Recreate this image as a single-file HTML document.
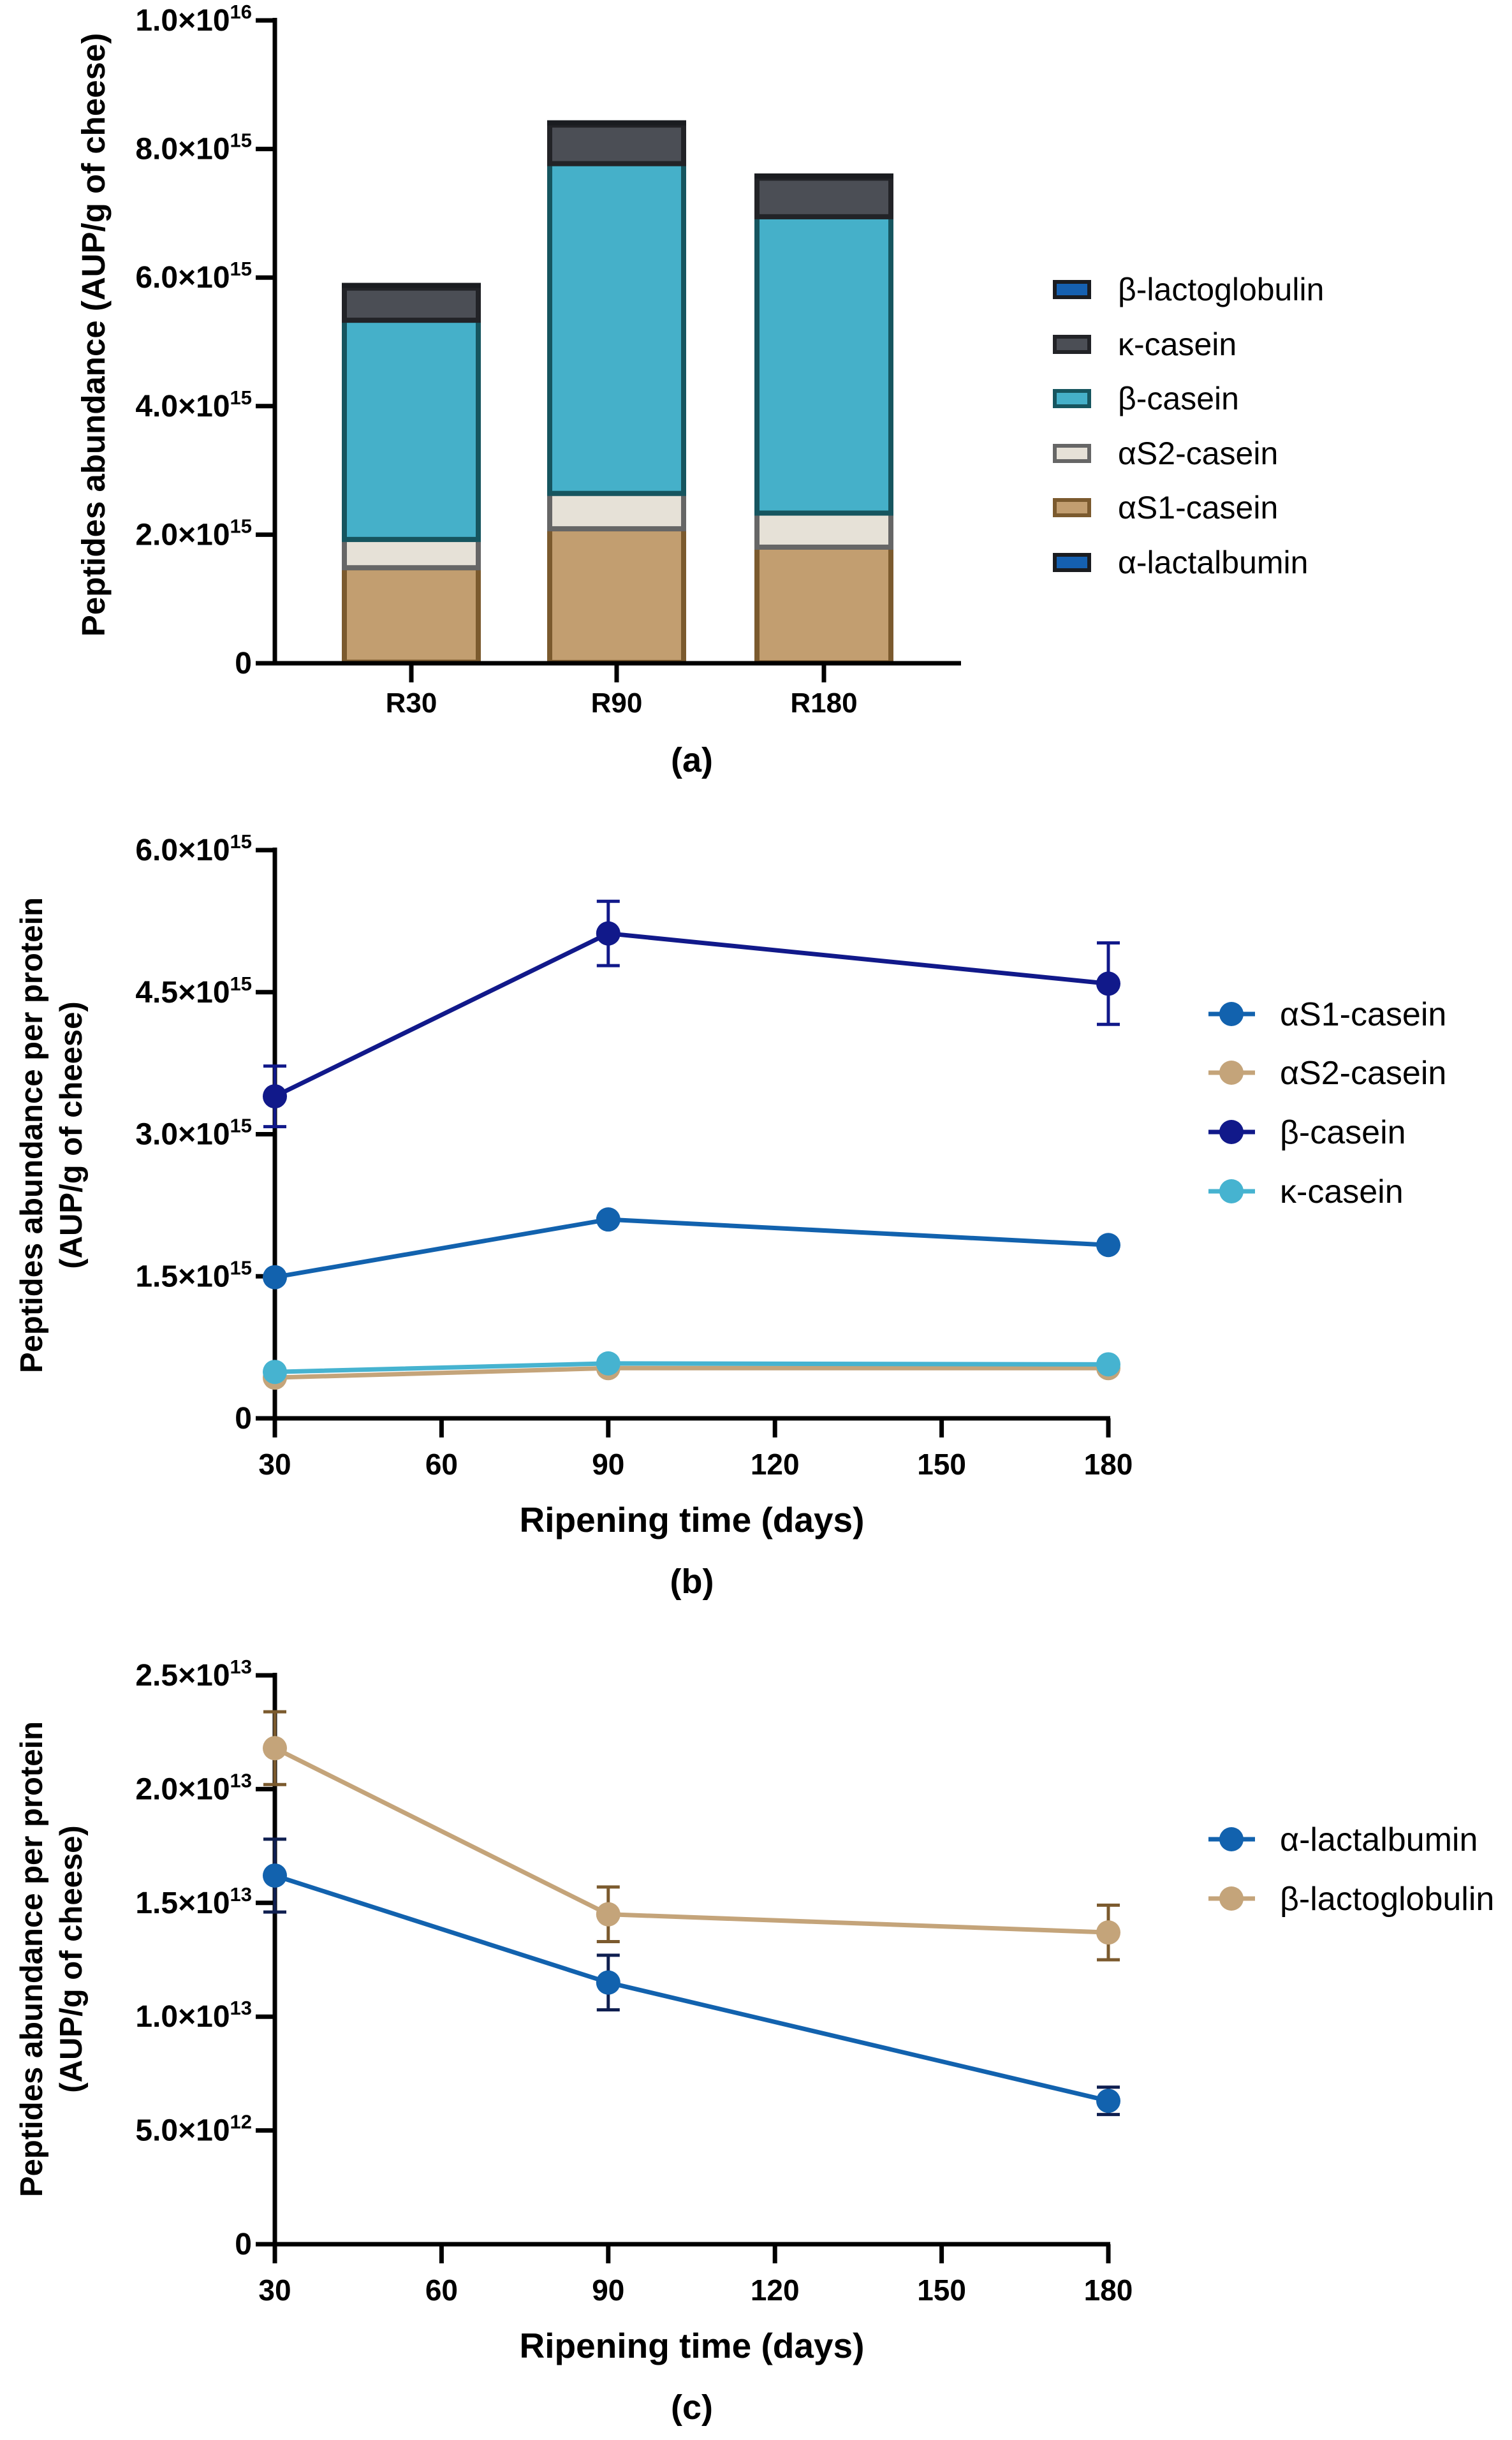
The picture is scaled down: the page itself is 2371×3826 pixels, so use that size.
<!DOCTYPE html>
<html><head><meta charset="utf-8"><style>
html,body{margin:0;padding:0;background:#fff;}
svg{display:block;font-family:"Liberation Sans",Arial,sans-serif;}
</style></head><body>
<svg id="fig" width="2371" height="3826" viewBox="0 0 2371 3826"></svg>
<script>
// ---- Chart (a) data: stacked bars (units 1e15) ----
const aCategories = ['R30','R90','R180'];
const aLact = [0.016, 0.012, 0.006];
const aAS1 = [1.47, 2.08, 1.80];
const aAS2 = [0.44, 0.55, 0.53];
const aBeta = [3.41, 5.13, 4.61];
const aKappa = [0.50, 0.60, 0.60];
const aBlg = [0.022, 0.015, 0.014];
const aTicks = [0, 2, 4, 6, 8, 10];
const aTickMant = ['0','2.0','4.0','6.0','8.0','1.0'];
const aTickExp = ['','15','15','15','15','16'];
// ---- Chart (b) data (units 1e15) ----
const bDays = [30, 90, 180];
const bAS1 = [1.49, 2.10, 1.83];
const bAS2 = [0.43, 0.53, 0.53];
const bBeta = [3.40, 5.12, 4.59];
const bBetaErr = [0.32, 0.34, 0.43];
const bKappa = [0.49, 0.58, 0.57];
const bTicks = [0, 1.5, 3.0, 4.5, 6.0];
const bTickMant = ['0','1.5','3.0','4.5','6.0'];
const bTickExp = ['','15','15','15','15'];
const xTicks = [30, 60, 90, 120, 150, 180];
// ---- Chart (c) data (units 1e13) ----
const cDays = [30, 90, 180];
const cLact = [1.62, 1.15, 0.63];
const cLactErr = [0.16, 0.12, 0.06];
const cBlg = [2.18, 1.45, 1.37];
const cBlgErr = [0.16, 0.12, 0.12];
const cTicks = [0, 0.5, 1.0, 1.5, 2.0, 2.5];
const cTickMant = ['0','5.0','1.0','1.5','2.0','2.5'];
const cTickExp = ['','12','13','13','13','13'];

const NS='http://www.w3.org/2000/svg';
const svg=document.getElementById('fig');
function mk(tag,attrs,parent){const e=document.createElementNS(NS,tag);for(const k in attrs)e.setAttribute(k,attrs[k]);(parent||svg).appendChild(e);return e;}
function txt(x,y,s,size,weight,anchor,parent){const t=mk('text',{x:x,y:y,'font-size':size,'font-weight':weight,'text-anchor':anchor,fill:'#000'},parent);t.textContent=s;return t;}
function sciLabel(x,y,mant,exp,parent){
  const t=mk('text',{x:x,y:y,'font-size':48,'font-weight':'bold','text-anchor':'end',fill:'#000'},parent);
  if(!exp){t.textContent=mant;return t;}
  const a=mk('tspan',{},t);a.textContent=mant+'×10';
  const b=mk('tspan',{dy:-19,'font-size':31},t);b.textContent=exp;
  return t;
}
const AXX=431;

// ================= Chart (a) =================
const ga=mk('g',{});


const aY0=1040, aYtop=32, aMax=10;
const ay=v=>aY0-(v/aMax)*(aY0-aYtop);
const aCenters=[645,967,1292]; const barW=210;
const aStacks=[
 {name:'as1-casein',vals:aAS1,fill:'#c29e70',stroke:'#7b5a2e'},
 {name:'as2-casein',vals:aAS2,fill:'#e6e1d7',stroke:'#666666'},
 {name:'beta-casein',vals:aBeta,fill:'#45b0c9',stroke:'#16555f'},
 {name:'kappa-casein',vals:aKappa,fill:'#4b4e55',stroke:'#222327'}
];
aCategories.forEach((c,i)=>{
  let base=aLact[i];
  aStacks.forEach(s=>{
    const top=base+s.vals[i];
    const r=mk('rect',{x:aCenters[i]-barW/2,y:ay(top),width:barW,height:ay(base)-ay(top),fill:s.fill,stroke:s.stroke,'stroke-width':8},ga);
    
    
    base=top;
  });
  const r2=mk('rect',{x:aCenters[i]-barW/2-4,y:ay(base+aBlg[i])-6,width:barW+8,height:8,fill:'#1a1c20'},ga);
  
  
  mk('line',{x1:aCenters[i],y1:aY0,x2:aCenters[i],y2:aY0+30,stroke:'#000','stroke-width':7},ga);
  const t=txt(aCenters[i],1117,c,44,'bold','middle',ga);
  
  
});
mk('line',{x1:AXX,y1:aYtop-4,x2:AXX,y2:aY0+3,stroke:'#000','stroke-width':7},ga);
mk('line',{x1:AXX-3,y1:aY0,x2:1507,y2:aY0,stroke:'#000','stroke-width':7},ga);
aTicks.forEach((v,i)=>{
  mk('line',{x1:AXX-30,y1:ay(v),x2:AXX,y2:ay(v),stroke:'#000','stroke-width':7},ga);
  const l=sciLabel(AXX-36,ay(v)+16,aTickMant[i],aTickExp[i],ga);
  
  
});
const ayt=txt(0,0,'Peptides abundance (AUP/g of cheese)',51,'bold','middle',ga);
ayt.setAttribute('transform','translate(164,525) rotate(-90)');


const pa=txt(1085,1210,'(a)',54,'bold','middle',ga);


// legend (a)
const aLegend=[
 {name:'β-lactoglobulin',fill:'#1560b0',stroke:'#1a1c20'},
 {name:'κ-casein',fill:'#4b4e55',stroke:'#222327'},
 {name:'β-casein',fill:'#45b0c9',stroke:'#16555f'},
 {name:'αS2-casein',fill:'#e6e1d7',stroke:'#666666'},
 {name:'αS1-casein',fill:'#c29e70',stroke:'#7b5a2e'},
 {name:'α-lactalbumin',fill:'#1560b0',stroke:'#1a1c20'}
];
const aLegY=[454,540,625,711,796,882];
aLegend.forEach((L,i)=>{
  const g=mk('g',{},ga);
  
  
  mk('rect',{x:1654,y:aLegY[i]-12,width:54,height:24,fill:L.fill,stroke:L.stroke,'stroke-width':6},g);
  txt(1753,aLegY[i]+17,L.name,50,'normal','start',g);
});

// ================= Line chart helper =================
function lineChart(opts){
  const g=mk('g',{});
  
  
  const X0=431,X1=1738;
  const xs=d=>X0+(d-30)/150*(X1-X0);
  const ys=v=>opts.y0-(v/opts.max)*(opts.y0-opts.ytop);
  mk('line',{x1:X0,y1:opts.ytop-4,x2:X0,y2:opts.y0+3,stroke:'#000','stroke-width':7},g);
  mk('line',{x1:X0-3,y1:opts.y0,x2:X1+3,y2:opts.y0,stroke:'#000','stroke-width':7},g);
  opts.ticks.forEach((v,i)=>{
    mk('line',{x1:X0-30,y1:ys(v),x2:X0,y2:ys(v),stroke:'#000','stroke-width':7},g);
    const l=sciLabel(X0-36,ys(v)+16,opts.mant[i],opts.exp[i],g);
    
    
  });
  xTicks.forEach(d=>{
    mk('line',{x1:xs(d),y1:opts.y0,x2:xs(d),y2:opts.y0+30,stroke:'#000','stroke-width':7},g);
    const t=txt(xs(d),opts.y0+88,String(d),46,'bold','middle',g);
    
    
  });
  const xt=txt(1085,opts.y0+178,'Ripening time (days)',55,'bold','middle',g);
  
  
  const pl=txt(1085,opts.y0+274,opts.panel,54,'bold','middle',g);
  
  
  const yt=mk('text',{transform:'translate(0,'+opts.ymid+') rotate(-90)','font-size':49,'font-weight':'bold','text-anchor':'middle',fill:'#000'},g);
  
  
  const t1=mk('tspan',{x:0,y:66},yt);t1.textContent='Peptides abundance per protein';
  const t2=mk('tspan',{x:0,y:128},yt);t2.textContent='(AUP/g of cheese)';
  opts.series.forEach(s=>{
    const sg=mk('g',{},g);
    
    
    const pts=opts.days.map((d,i)=>xs(d)+','+ys(s.vals[i])).join(' ');
    mk('polyline',{points:pts,fill:'none',stroke:s.color,'stroke-width':7},sg);
    opts.days.forEach((d,i)=>{
      if(s.err){
        const x=xs(d),hi=ys(s.vals[i]+s.err[i]),lo=ys(s.vals[i]-s.err[i]);
        mk('line',{x1:x,y1:hi,x2:x,y2:lo,stroke:s.errColor,'stroke-width':5},sg);
        mk('line',{x1:x-18,y1:hi,x2:x+18,y2:hi,stroke:s.errColor,'stroke-width':5},sg);
        mk('line',{x1:x-18,y1:lo,x2:x+18,y2:lo,stroke:s.errColor,'stroke-width':5},sg);
      }
      const c=mk('circle',{cx:xs(d),cy:ys(s.vals[i]),r:19,fill:s.color},sg);
      
      
    });
  });
  opts.legend.forEach((L,i)=>{
    const lg=mk('g',{},g);
    
    
    const y=opts.legY[i];
    mk('line',{x1:1895,y1:y,x2:1968,y2:y,stroke:L.color,'stroke-width':7},lg);
    mk('circle',{cx:1931,cy:y,r:19,fill:L.color},lg);
    txt(2007,y+18,L.name,52,'normal','start',lg);
  });
}

// ================= Chart (b) =================
lineChart({
  name:'chart-b',panel:'(b)',y0:2224,ytop:1333,max:6,ymid:1780,
  ticks:bTicks,mant:bTickMant,exp:bTickExp,days:bDays,
  series:[
    {id:'as2-casein',vals:bAS2,color:'#c4a47a'},
    {id:'kappa-casein',vals:bKappa,color:'#46b3d0'},
    {id:'as1-casein',vals:bAS1,color:'#1262ae'},
    {id:'beta-casein',vals:bBeta,color:'#11198a',err:bBetaErr,errColor:'#11198a'}
  ],
  legend:[{name:'αS1-casein',color:'#1262ae'},{name:'αS2-casein',color:'#c4a47a'},{name:'β-casein',color:'#11198a'},{name:'κ-casein',color:'#46b3d0'}],
  legY:[1590,1682,1775,1868]
});

// ================= Chart (c) =================
lineChart({
  name:'chart-c',panel:'(c)',y0:3519,ytop:2627,max:2.5,ymid:3072,
  ticks:cTicks,mant:cTickMant,exp:cTickExp,days:cDays,
  series:[
    {id:'beta-lactoglobulin',vals:cBlg,color:'#c4a47a',err:cBlgErr,errColor:'#7b5a2e'},
    {id:'alpha-lactalbumin',vals:cLact,color:'#1262ae',err:cLactErr,errColor:'#0f1f50'}
  ],
  legend:[{name:'α-lactalbumin',color:'#1262ae'},{name:'β-lactoglobulin',color:'#c4a47a'}],
  legY:[2884,2977]
});
</script></body></html>
